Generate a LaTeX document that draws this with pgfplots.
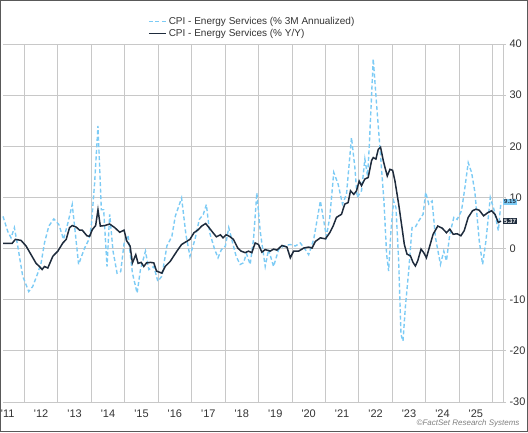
\documentclass[border=0pt]{standalone}
\usepackage{fontspec}
\setmainfont{Liberation Sans}[Ligatures=TeXOff]
\usepackage{pgfplots}
\pgfplotsset{compat=1.18}
\definecolor{lightblue}{HTML}{7CCBF5}
\definecolor{navy}{HTML}{1E2B3C}
\definecolor{gridgray}{HTML}{C8C8C8}
\definecolor{labelgray}{HTML}{333333}

\pgfplotstableread{
x y
2011.36 6.3
2011.50 3.4
2011.60 2.1
2011.70 4.1
2011.80 0.5
2011.95 -5.4
2012.13 -8.4
2012.25 -7.4
2012.40 -4.8
2012.50 -2.8
2012.60 1.1
2012.73 4.4
2012.88 5.8
2013.03 4.7
2013.17 1.8
2013.30 5.0
2013.43 8.6
2013.50 4.4
2013.62 -3.1
2013.80 0.1
2013.93 1.8
2014.00 4.4
2014.10 12.9
2014.20 24.0
2014.30 7.6
2014.37 7.6
2014.47 -3.5
2014.55 6.7
2014.65 -0.5
2014.77 -4.8
2014.88 -4.5
2014.98 1.0
2015.10 2.6
2015.23 -4.8
2015.37 -8.7
2015.47 -4.1
2015.62 -0.5
2015.72 -4.1
2015.87 -3.5
2015.99 -6.4
2016.11 -5.4
2016.26 0.5
2016.41 2.4
2016.51 6.3
2016.70 9.9
2016.83 2.7
2016.95 -1.5
2017.10 1.8
2017.23 5.7
2017.35 6.7
2017.44 8.6
2017.54 3.1
2017.69 -0.2
2017.79 -1.8
2017.89 -0.2
2018.01 0.5
2018.11 4.1
2018.24 0.8
2018.33 -1.5
2018.45 -3.1
2018.55 -2.8
2018.64 -1.0
2018.75 -3.1
2018.85 1.8
2018.95 10.9
2019.05 3.4
2019.20 -3.5
2019.30 -0.2
2019.45 -3.5
2019.60 -0.2
2019.75 0.5
2019.95 0.8
2020.10 0.5
2020.25 1.1
2020.40 -0.2
2020.50 -1.2
2020.65 1.8
2020.85 9.3
2021.03 2.4
2021.13 6.1
2021.25 14.9
2021.38 12.6
2021.51 8.7
2021.63 10.6
2021.78 21.7
2021.88 15.9
2021.95 10.0
2022.08 11.3
2022.18 17.5
2022.26 14.2
2022.31 19.8
2022.43 37.1
2022.53 28.2
2022.63 19.8
2022.75 9.3
2022.83 -1.1
2022.89 -4.4
2022.96 3.5
2023.04 9.3
2023.11 8.0
2023.19 -2.4
2023.26 -16.8
2023.32 -18.1
2023.39 -11.5
2023.49 -4.4
2023.59 4.1
2023.69 4.2
2023.79 5.4
2023.92 6.7
2024.00 11.0
2024.09 8.7
2024.19 9.3
2024.29 2.2
2024.44 -3.1
2024.54 -0.5
2024.62 -2.4
2024.72 2.8
2024.84 6.1
2024.94 5.7
2025.07 7.4
2025.17 11.9
2025.27 16.8
2025.37 14.9
2025.47 11.0
2025.60 1.5
2025.70 -3.1
2025.80 1.5
2025.93 10.0
2026.05 7.4
2026.17 3.5
2026.25 9.15
}\threem

\pgfplotstableread{
x y
2011.36 1.0
2011.63 1.0
2011.73 1.8
2011.90 1.6
2012.05 0.5
2012.20 -1.2
2012.35 -2.9
2012.45 -3.5
2012.53 -4.1
2012.60 -3.5
2012.70 -3.8
2012.85 -1.5
2013.00 -0.5
2013.15 1.1
2013.25 1.8
2013.35 4.1
2013.43 4.5
2013.55 4.2
2013.65 3.6
2013.73 3.6
2013.87 2.5
2013.95 2.4
2014.03 3.7
2014.13 4.5
2014.20 7.6
2014.27 4.4
2014.40 4.5
2014.55 4.8
2014.70 4.1
2014.85 3.2
2014.98 3.6
2015.06 1.5
2015.16 0.5
2015.23 -2.8
2015.33 -1.2
2015.40 -2.9
2015.49 -2.7
2015.57 -3.5
2015.65 -2.8
2015.77 -2.7
2015.87 -2.8
2015.95 -4.4
2016.11 -4.8
2016.21 -3.5
2016.36 -2.5
2016.46 -1.5
2016.56 -0.5
2016.70 0.8
2016.85 1.4
2016.95 1.8
2017.07 3.1
2017.20 3.7
2017.30 4.4
2017.42 4.9
2017.52 4.1
2017.64 3.1
2017.74 2.3
2017.86 2.7
2017.94 2.1
2018.03 2.7
2018.13 2.4
2018.25 1.8
2018.38 0.1
2018.48 -0.5
2018.60 -0.8
2018.70 -0.5
2018.80 -0.8
2018.90 1.1
2019.00 0.8
2019.10 -0.7
2019.20 -0.2
2019.35 -0.5
2019.45 -0.1
2019.55 -0.3
2019.70 0.6
2019.85 0.3
2019.95 -1.8
2020.05 -0.5
2020.20 -0.5
2020.35 0.1
2020.50 0.3
2020.60 0.1
2020.70 1.4
2020.85 2.1
2021.00 1.9
2021.13 3.1
2021.23 4.4
2021.33 6.1
2021.48 6.7
2021.58 8.7
2021.68 9.0
2021.75 11.3
2021.85 10.6
2021.93 11.3
2022.01 13.2
2022.08 12.3
2022.18 13.6
2022.28 13.9
2022.38 17.2
2022.43 17.8
2022.51 17.5
2022.58 19.4
2022.65 19.8
2022.73 17.2
2022.78 15.9
2022.85 14.2
2022.93 15.5
2023.01 15.3
2023.08 13.2
2023.19 8.7
2023.29 4.1
2023.36 0.8
2023.44 -1.1
2023.54 -1.4
2023.62 -2.7
2023.69 -3.4
2023.76 -2.4
2023.86 -0.1
2023.94 -0.8
2024.02 -1.8
2024.12 0.5
2024.22 2.8
2024.36 4.4
2024.49 4.0
2024.62 3.1
2024.72 3.8
2024.82 2.8
2024.94 2.9
2025.05 2.5
2025.15 3.5
2025.27 6.1
2025.40 7.4
2025.50 7.7
2025.60 7.5
2025.73 6.4
2025.85 7.0
2025.97 7.4
2026.07 6.7
2026.17 5.1
2026.25 5.37
}\yoy

\begin{document}
\begin{tikzpicture}
\useasboundingbox (0pt,0pt) rectangle (528pt,432pt);
\begin{axis}[
  at={(3pt,30pt)}, anchor=south west,
  scale only axis, width=500pt, height=358pt,
  xmin=2011.36, xmax=2026.31, ymin=-30, ymax=40,
  clip=false,
  axis line style={draw=none},
  ytick={-30,-20,...,40},
  yticklabels={-30,-20,-10,0,10,20,30,40},
  ytick pos=right,
  yticklabel pos=right,
  ymajorgrids,
  major grid style={gridgray, line width=0.8pt},
  xtick={2011.5,2012.5,...,2025.5},
  xticklabels={'11,'12,'13,'14,'15,'16,'17,'18,'19,'20,'21,'22,'23,'24,'25},
  xmajorgrids=false,
  minor xtick={2012,2013,...,2026},
  xminorgrids,
  minor grid style={gridgray, line width=0.9pt},
  xtick style={draw=none},
  minor x tick style={draw=none},
  ytick style={gridgray, line width=0.8pt},
  tick align=outside, major tick length=3pt,
  ticklabel style={font=\fontsize{11}{13}\selectfont, text=labelgray},
  xticklabel style={yshift=-1pt},
  legend cell align=left,
  legend style={draw=none, fill=none, at={(axis description cs:0.29,1)}, anchor=south west,
    yshift=4pt, font=\fontsize{10}{11}\selectfont, text=labelgray, row sep=-1pt, inner sep=0pt},
]
\addplot[lightblue, line width=1.4pt, dash pattern=on 4pt off 2.5pt] table[x=x,y=y] {\threem};
\addlegendentry{CPI - Energy Services (\% 3M Annualized)}
\addplot[navy, line width=1.5pt] table[x=x,y=y] {\yoy};
\addlegendentry{CPI - Energy Services (\% Y/Y)}
\draw[gridgray, line width=0.8pt] (rel axis cs:1,0) -- (rel axis cs:1,1);
\draw[gridgray, line width=0.8pt] (rel axis cs:0,0) -- (rel axis cs:1,0);
\node[anchor=west, fill=lightblue, text=navy, inner sep=1pt, font=\fontsize{6}{6}\selectfont\bfseries] at (axis cs:2026.31,9.15) {9.15};
\node[anchor=west, fill=navy, text=white, inner sep=1pt, font=\fontsize{6}{6}\selectfont\bfseries] at (axis cs:2026.31,5.37) {5.37};
\end{axis}
\node[anchor=base east, font=\fontsize{8}{10}\selectfont\itshape, text=gray] at (523pt,7pt) {\textcopyright FactSet Research Systems};
\draw[black!65, line width=1.2pt] (0.6pt,0.6pt) rectangle (527.4pt,431.4pt);
\end{tikzpicture}
\end{document}
